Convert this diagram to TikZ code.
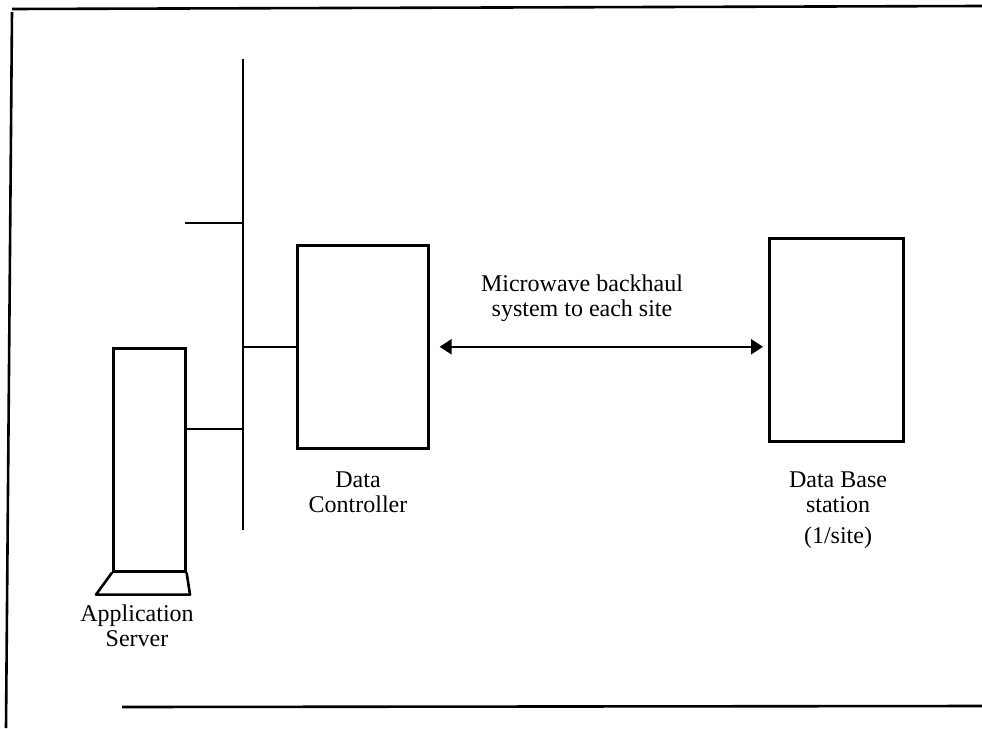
\documentclass[tikz,border=0pt]{standalone}
\usepackage{fontspec}
\setmainfont{Liberation Serif}
\usepackage{tikz}
\usetikzlibrary{arrows.meta}
\usetikzlibrary{positioning}
\tikzset{
unit box/.style = { rectangle, draw = black, fill = white, line width = 2.6pt, inner sep = 0pt },
bus line/.style = { draw = black, line width = 2.6pt },
frame line/.style = { draw = black, line width = 2.6pt },
caption/.style = { align = center, inner sep = 0pt, font = \fontsize{24}{25}\selectfont },
backhaul/.style = { draw = black, line width = 2.2pt, {Triangle[length = 12pt, width = 15pt]}-{Triangle[length = 12pt, width = 15pt]} },
}

\begin{document}
\begin{tikzpicture}[x = 1pt, y = -1pt]
    \useasboundingbox (0, 0) rectangle (982, 728);
    \draw[frame line] (12, 9) -- (982, 6);
    \draw[frame line] (12, 12) -- (6, 728);
    \draw[frame line] (122, 707) -- (982, 706);
    \coordinate (bustop) at (243, 59);
    \coordinate (busbot) at (243, 530);
    \coordinate (stub) at (185, 223);
    \node[unit box, anchor = north west, minimum width = 72pt, minimum height = 223pt] (server) at (112, 347) {};
    \node[unit box, anchor = north west, minimum width = 131pt, minimum height = 203pt] (dc) at (296, 244) {};
    \node[unit box, anchor = north west, minimum width = 134pt, minimum height = 203pt] (dbs) at (768, 237) {};
    \draw[bus line, line join = round] (server.south west) -- ++(-16, 22) -- ++(94, 0) -- (server.south east);
    \draw[bus line] (bustop) -- (busbot);
    \draw[bus line] (stub) -- (stub -| bustop);
    \coordinate (srvport) at ([yshift = 31pt]server.east);
    \draw[bus line] (srvport) -- (srvport -| bustop);
    \draw[bus line] (dc.west) -- (dc.west -| bustop);
    \draw[backhaul] ([xshift = 10pt]dc.east) -- ([xshift = -5pt]dbs.west |- dc.east);
    \node[caption] (mwlabel) at (582, 298) {Microwave backhaul\\system to each site};
    \node[caption] (dclabel) at (358, 492) {Data\\Controller};
    \node[caption] (dbslabel) at (838, 492) {Data Base\\station};
    \node[caption, below = 14pt of dbslabel] (sitelabel) {(1/site)};
    \node[caption] (srvlabel) at (137, 626) {Application\\Server};
\end{tikzpicture}
\end{document}
